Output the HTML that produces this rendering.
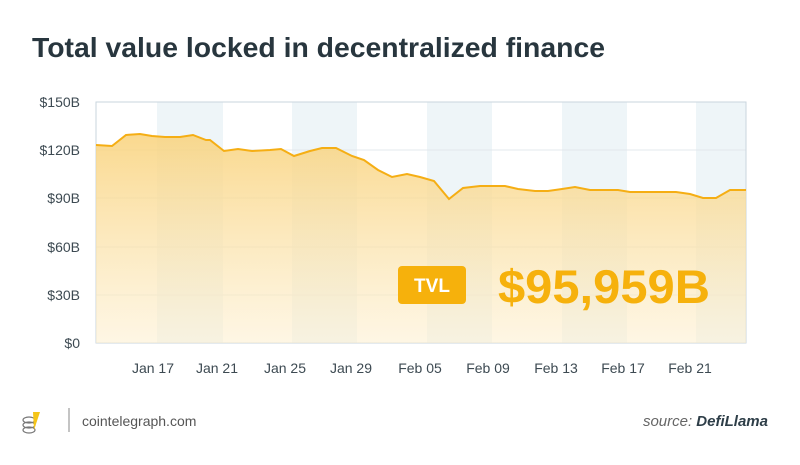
<!DOCTYPE html>
<html><head><meta charset="utf-8"><style>
body{margin:0;width:800px;height:465px;background:#fff;overflow:hidden;font-family:"Liberation Sans",sans-serif}
</style></head><body>
<svg width="800" height="465" xmlns="http://www.w3.org/2000/svg" style="position:absolute;left:0;top:0">
<defs><linearGradient id="g" x1="0" y1="0" x2="0" y2="1">
<stop offset="0" stop-color="#f9d27a" stop-opacity="0.85"/>
<stop offset="1" stop-color="#fdf0d2" stop-opacity="0.6"/></linearGradient></defs>
<text x="32" y="57" font-size="28" font-weight="bold" fill="#28363e" textLength="573" lengthAdjust="spacingAndGlyphs">Total value locked in decentralized finance</text>
<g fill="#eef5f8">
<rect x="157" y="102" width="66" height="241"/>
<rect x="292" y="102" width="65" height="241"/>
<rect x="427" y="102" width="65" height="241"/>
<rect x="562" y="102" width="65" height="241"/>
<rect x="696" y="102" width="50" height="241"/>
</g>
<g stroke="#e3e8ec" stroke-width="1">
<line x1="96" y1="150" x2="746" y2="150"/><line x1="96" y1="198" x2="746" y2="198"/>
<line x1="96" y1="247" x2="746" y2="247"/><line x1="96" y1="295" x2="746" y2="295"/>
</g>
<rect x="96" y="102" width="650" height="241" fill="none" stroke="#c9d5de" stroke-width="1"/>
<path d="M96,145 L112,146 L126,135 L140,134 L152,136 L165,137 L180,137 L193,135 L206,140 L210,140 L224,151 L238,149 L252,151 L270,150 L281,149 L294,156 L310,151 L322,148 L336,148 L352,156 L364,160 L378,170 L392,177 L407,174 L420,177 L434,181 L449,199 L463,188 L480,186 L505,186 L518,189 L535,191 L548,191 L562,189 L575,187 L590,190 L618,190 L630,192 L660,192 L676,192 L690,194 L703,198 L716,198 L730,190 L746,190 L746,343 L96,343 Z" fill="url(#g)"/>
<path d="M96,145 L112,146 L126,135 L140,134 L152,136 L165,137 L180,137 L193,135 L206,140 L210,140 L224,151 L238,149 L252,151 L270,150 L281,149 L294,156 L310,151 L322,148 L336,148 L352,156 L364,160 L378,170 L392,177 L407,174 L420,177 L434,181 L449,199 L463,188 L480,186 L505,186 L518,189 L535,191 L548,191 L562,189 L575,187 L590,190 L618,190 L630,192 L660,192 L676,192 L690,194 L703,198 L716,198 L730,190 L746,190" fill="none" stroke="#f5ae14" stroke-width="2"/>
<g font-size="14" fill="#3d4a52" text-anchor="end">
<text x="80" y="107">$150B</text><text x="80" y="155">$120B</text><text x="80" y="203">$90B</text>
<text x="80" y="252">$60B</text><text x="80" y="300">$30B</text><text x="80" y="348">$0</text>
</g>
<g font-size="14" fill="#3d4a52" text-anchor="middle">
<text x="153" y="373">Jan 17</text><text x="217" y="373">Jan 21</text><text x="285" y="373">Jan 25</text>
<text x="351" y="373">Jan 29</text><text x="420" y="373">Feb 05</text><text x="488" y="373">Feb 09</text>
<text x="556" y="373">Feb 13</text><text x="623" y="373">Feb 17</text><text x="690" y="373">Feb 21</text>
</g>
<rect x="398" y="266" width="68" height="38" rx="4" fill="#f6b10c"/>
<text x="432" y="292" font-size="19" font-weight="bold" fill="#fff" text-anchor="middle">TVL</text>
<text x="498" y="303" font-size="47" font-weight="bold" fill="#f6b10c" textLength="212" lengthAdjust="spacingAndGlyphs">$95,959B</text>
<g fill="none" stroke="#777" stroke-width="1.2">
<ellipse cx="29" cy="420" rx="6" ry="3"/><ellipse cx="29" cy="425" rx="6" ry="3"/><ellipse cx="29" cy="430" rx="6" ry="3"/>
</g>
<path d="M33,412 L40,412 L34,430 Z" fill="#f5c518"/>
<line x1="69" y1="408" x2="69" y2="432" stroke="#888" stroke-width="1"/>
<text x="82" y="426" font-size="14" fill="#555">cointelegraph.com</text>
<text x="768" y="426" font-size="15" font-style="italic" fill="#666" text-anchor="end">source: <tspan font-weight="bold" fill="#2e3e48">DefiLlama</tspan></text>
</svg>
</body></html>
